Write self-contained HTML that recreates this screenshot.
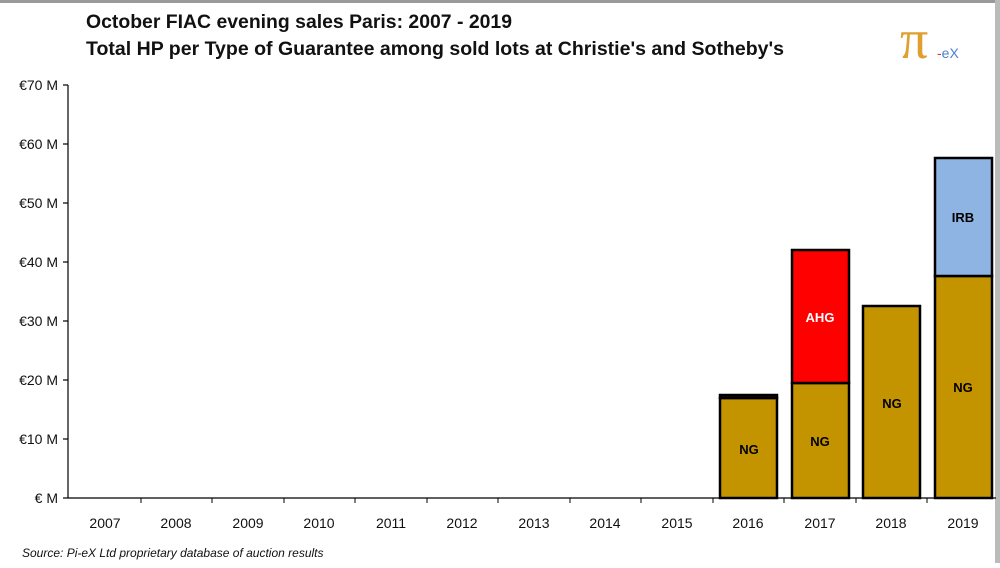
<!DOCTYPE html>
<html><head><style>
body{margin:0;width:1000px;height:563px;background:#fff;overflow:hidden;font-family:"Liberation Sans",sans-serif}
</style></head><body>
<svg width="1000" height="563" xmlns="http://www.w3.org/2000/svg" font-family="Liberation Sans, sans-serif">
<rect x="0" y="0" width="1000" height="563" fill="#fff"/>
<rect x="0" y="0" width="1000" height="3" fill="#999"/>
<rect x="995" y="0" width="5" height="563" fill="#bbb"/>
<text x="86" y="28" font-size="19" font-weight="bold" fill="#111" textLength="426" lengthAdjust="spacingAndGlyphs">October FIAC evening sales Paris: 2007 - 2019</text>
<text x="86" y="55" font-size="19" font-weight="bold" fill="#111" textLength="698" lengthAdjust="spacingAndGlyphs">Total HP per Type of Guarantee among sold lots at Christie's and Sotheby's</text>
<text x="900" y="58" font-size="56" fill="#e0a030" font-family="Liberation Serif, serif">π</text>
<text x="937" y="58" font-size="14" fill="#4a7fd0"><tspan fill="#e03030">-</tspan>eX</text>
<g font-size="14" fill="#111" text-anchor="end">
<text x="58" y="503">€ M</text><text x="58" y="444">€10 M</text><text x="58" y="385">€20 M</text><text x="58" y="326">€30 M</text><text x="58" y="267">€40 M</text><text x="58" y="208">€50 M</text><text x="58" y="149">€60 M</text><text x="58" y="90">€70 M</text>
</g>
<g stroke="#000" stroke-width="1.2">
<line x1="68" y1="85" x2="68" y2="498"/>
<line x1="68" y1="498" x2="996" y2="498"/>
<line x1="63" y1="85" x2="68" y2="85"/><line x1="63" y1="144" x2="68" y2="144"/><line x1="63" y1="203" x2="68" y2="203"/><line x1="63" y1="262" x2="68" y2="262"/><line x1="63" y1="321" x2="68" y2="321"/><line x1="63" y1="380" x2="68" y2="380"/><line x1="63" y1="439" x2="68" y2="439"/><line x1="63" y1="498" x2="68" y2="498"/>
</g>
<g stroke="#000" stroke-width="1">
<line x1="141" y1="498" x2="141" y2="503"/><line x1="212" y1="498" x2="212" y2="503"/><line x1="284" y1="498" x2="284" y2="503"/><line x1="355" y1="498" x2="355" y2="503"/><line x1="427" y1="498" x2="427" y2="503"/><line x1="498" y1="498" x2="498" y2="503"/><line x1="570" y1="498" x2="570" y2="503"/><line x1="641" y1="498" x2="641" y2="503"/><line x1="713" y1="498" x2="713" y2="503"/><line x1="784" y1="498" x2="784" y2="503"/><line x1="856" y1="498" x2="856" y2="503"/><line x1="927" y1="498" x2="927" y2="503"/>
</g>
<g font-size="14" fill="#111" text-anchor="middle">
<text x="105" y="528">2007</text><text x="176" y="528">2008</text><text x="248" y="528">2009</text><text x="319" y="528">2010</text><text x="391" y="528">2011</text><text x="462" y="528">2012</text><text x="534" y="528">2013</text><text x="605" y="528">2014</text><text x="677" y="528">2015</text><text x="748" y="528">2016</text><text x="820" y="528">2017</text><text x="891" y="528">2018</text><text x="963" y="528">2019</text>
</g>
<g stroke="#000" stroke-width="2.5">
<rect x="720" y="398" width="57" height="100" fill="#c49400"/>
<rect x="720" y="395" width="57" height="3" fill="#2a0a00"/>
<rect x="792" y="383" width="57" height="115" fill="#c49400"/>
<rect x="792" y="250" width="57" height="133" fill="#ff0000"/>
<rect x="863" y="306" width="57" height="192" fill="#c49400"/>
<rect x="935" y="276" width="57" height="222" fill="#c49400"/>
<rect x="935" y="158" width="57" height="118" fill="#8db4e2"/>
</g>
<g font-size="13" font-weight="bold" text-anchor="middle">
<text x="749" y="454">NG</text><text x="820" y="446">NG</text><text x="820" y="322" fill="#fff">AHG</text><text x="892" y="408">NG</text><text x="963" y="392">NG</text><text x="963" y="222">IRB</text>
</g>
<text x="22" y="557" font-size="12" font-style="italic" fill="#111">Source:  Pi-eX Ltd proprietary database of auction results</text>
</svg>
</body></html>
